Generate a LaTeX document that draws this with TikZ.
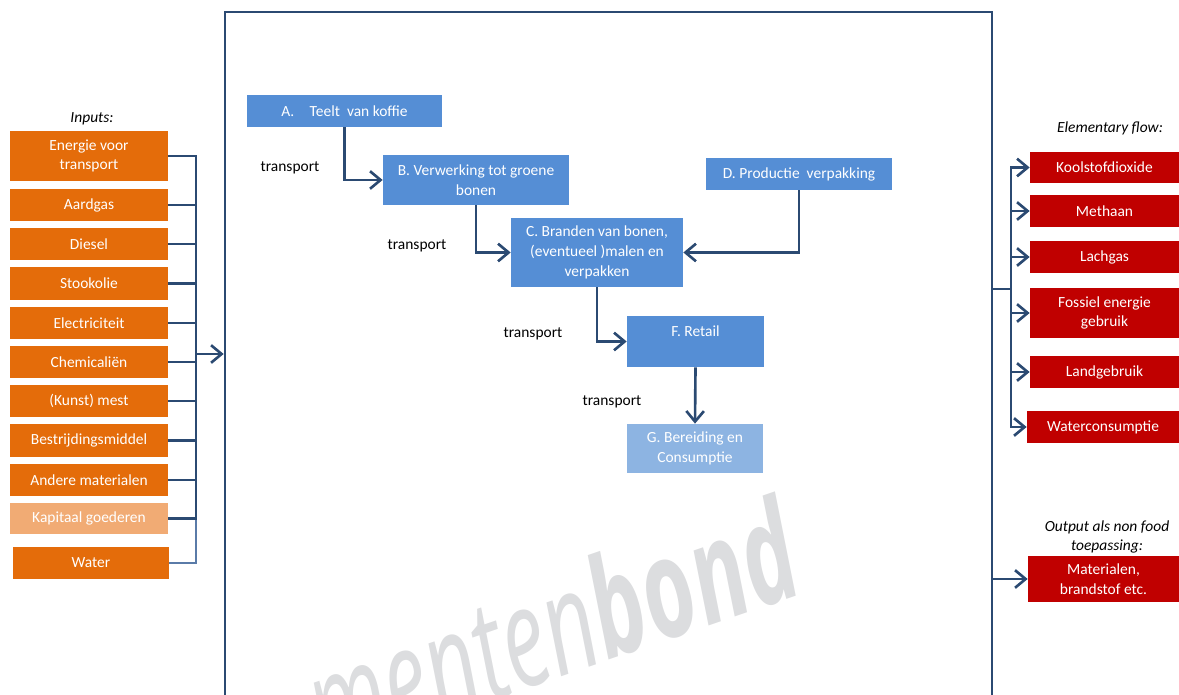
\documentclass[tikz,border=0pt]{standalone}
\usepackage{fontspec}
\setmainfont{Carlito}
\newfontfamily\markfont{Open Sans}
\usepackage{graphicx}
\usepackage{tikz}
\usetikzlibrary{arrows.meta}
\definecolor{inorange}{HTML}{E46C0A}
\definecolor{inpale}{HTML}{F1AB74}
\definecolor{stepblue}{HTML}{558ED5}
\definecolor{steppale}{HTML}{8DB4E2}
\definecolor{outred}{HTML}{C00000}
\definecolor{linenavy}{HTML}{2B4A72}
\definecolor{linepale}{HTML}{5A7BA8}
\definecolor{markgrey}{HTML}{DCDDDF}
\tikzset{every picture/.style={x=0.02cm, y=-0.02cm, every picture/.style={}}}
\tikzset{
  plaintext/.style={font=\fontsize{8.8}{11.3}\selectfont, align=center, inner sep=0pt},
  boxtext/.style={plaintext, text=white},
  inbox/.style={boxtext, fill=inorange},
  inpalebox/.style={boxtext, fill=inpale},
  stepbox/.style={boxtext, fill=stepblue},
  steppalebox/.style={boxtext, fill=steppale},
  outbox/.style={boxtext, fill=outred},
  flow/.style={draw=linenavy, line width=1.5pt},
  flowarrow/.style={flow, -{Straight Barb[length=6pt,width=10pt]}},
}
\newcommand\flowbox[7]{\node[#1, minimum width={(#5-#3)*0.02cm}, minimum height={(#6-#4)*0.02cm}] (#2) at ({(#3+#5)/2},{(#4+#6)/2}) {#7};}

\begin{document}
\begin{tikzpicture}
      \useasboundingbox (0,0) rectangle (1179,695);

      % Watermark behind the system
      \node[text=markgrey, anchor=base east, rotate=19, inner sep=0pt,
        font=\markfont\fontsize{79}{79}\selectfont] (wmark) at (808,592) {\scalebox{0.64}[1]{\itshape menten\bfseries bond}};

      % System boundary
      \node[draw=linenavy, line width=1.5pt, minimum width={767*0.02cm}, minimum height={760*0.02cm}] (system) at (608.5,392) {};

      % Inputs
      \node[plaintext, font=\fontsize{8.8}{11.3}\selectfont\itshape] (inlabel) at (92,119) {Inputs:};
      \flowbox{inbox}{in1}{10}{131}{168}{181}{Energie voor\\transport}
      \flowbox{inbox}{in2}{10}{189}{168}{221}{Aardgas}
      \flowbox{inbox}{in3}{10}{228}{168}{260}{Diesel}
      \flowbox{inbox}{in4}{10}{267}{168}{300}{Stookolie}
      \flowbox{inbox}{in5}{10}{307}{168}{339}{Electriciteit}
      \flowbox{inbox}{in6}{10}{346}{168}{378}{Chemicaliën}
      \flowbox{inbox}{in7}{10}{385}{168}{417}{(Kunst) mest}
      \flowbox{inbox}{in8}{10}{424}{168}{457}{Bestrijdingsmiddel}
      \flowbox{inbox}{in9}{10}{464}{168}{496}{Andere materialen}
      \flowbox{inpalebox}{in10}{10}{503}{168}{534}{Kapitaal goederen}
      \flowbox{inbox}{in11}{13}{547}{169}{579}{Water}

      % Input bus
      \coordinate (inbus) at (196,354);
      \draw[draw=linepale, line width=0.7pt] (in11.east) -| (inbus);
      \foreach \n in {in1,in2,in3,in4,in5,in6,in7,in8,in9,in10}{
          \draw[flow] (\n.east) -| (inbus);
        }
      \draw[flowarrow] (inbus) -- (inbus -| system.west);

      % Process steps
      \flowbox{stepbox}{stepA}{247}{95}{442}{127}{A.\quad Teelt\ \ van koffie}
      \flowbox{stepbox}{stepB}{383}{155}{569}{205}{B. Verwerking tot groene\\bonen}
      \flowbox{stepbox}{stepC}{511}{218}{683}{287}{C. Branden van bonen,\\(eventueel )malen en\\verpakken}
      \flowbox{stepbox}{stepD}{706}{158}{892}{190}{D. Productie\ \ verpakking}
      \flowbox{stepbox}{stepF}{627}{316}{764}{367}{F. Retail\\[-3pt]\strut}
      \flowbox{steppalebox}{stepG}{627}{424}{763}{473}{G. Bereiding en\\Consumptie}

      \node[plaintext] (tr1) at (290,168) {transport};
      \node[plaintext] (tr2) at (417,246) {transport};
      \node[plaintext] (tr3) at (533,334) {transport};
      \node[plaintext] (tr4) at (612,402) {transport};

      \draw[flowarrow] (stepA.south) |- (stepB.west);
      \draw[flowarrow] (stepB.south) |- (stepC.west);
      \draw[flowarrow] (stepD.south) |- (stepC.east);
      \draw[flowarrow] (stepC.south) |- (stepF.west);
      \draw[flowarrow] (stepF.south) -- (stepG.north);

      % Elementary flows
      \node[plaintext, font=\fontsize{8.8}{11.3}\selectfont\itshape] (outlabel) at (1110,128) {Elementary flow:};
      \flowbox{outbox}{out1}{1030}{152}{1179}{183}{Koolstofdioxide}
      \flowbox{outbox}{out2}{1030}{195}{1179}{227}{Methaan}
      \flowbox{outbox}{out3}{1030}{241}{1179}{273}{Lachgas}
      \flowbox{outbox}{out4}{1030}{288}{1179}{338}{Fossiel energie\\gebruik}
      \flowbox{outbox}{out5}{1030}{356}{1179}{388}{Landgebruik}
      \flowbox{outbox}{out6}{1027}{411}{1179}{443}{Waterconsumptie}

      \coordinate (outbus) at (1011,289);
      \draw[flow] (outbus -| system.east) -- (outbus);
      \foreach \n in {out1,out2,out3,out4,out5,out6}{
          \draw[flowarrow] (outbus) |- (\n.west);
        }

      % Non food output
      \node[plaintext, font=\fontsize{8.8}{11.3}\selectfont\itshape] (matlabel) at (1107,537) {Output als non food\\toepassing:};
      \flowbox{outbox}{mat}{1028}{556}{1179}{602}{Materialen,\\brandstof etc.}
      \draw[flowarrow] (mat.west -| system.east) -- (mat.west);
    \end{tikzpicture}
\end{document}
